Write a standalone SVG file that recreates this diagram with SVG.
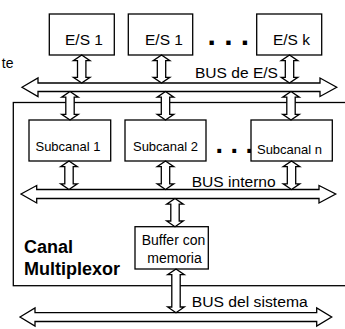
<svg xmlns="http://www.w3.org/2000/svg" width="345" height="329" viewBox="0 0 345 329">
<style>
.box{fill:#fff;stroke:#000;stroke-width:1.3}
.bus{fill:#fff;stroke:#000;stroke-width:1.3;stroke-linejoin:miter}
.va{fill:#fff;stroke:#000;stroke-width:1.3}
.t{font-family:"Liberation Sans",Arial,sans-serif;fill:#000}
.lbl{font-size:15.5px}
.dots{font-family:"Liberation Sans",Arial,sans-serif;font-weight:bold;fill:#000}
</style>
<rect width="345" height="329" fill="#fff"/>
<g id="canal-multiplexor">
<rect class="box" x="13.3" y="102.5" width="345" height="183.2"/>
<text class="t" x="24" y="253" font-size="18" font-weight="bold">Canal</text>
<text class="t" x="24" y="275" font-size="18" font-weight="bold">Multiplexor</text>
</g>
<text class="t" x="13.5" y="68" font-size="14" text-anchor="end">te</text>
<g id="es1a">
<rect class="box" x="49.3" y="14" width="65" height="41"/>
<text class="t" x="84" y="45" font-size="15.5" text-anchor="middle">E/S 1</text>
</g>
<g id="es1b">
<rect class="box" x="128.3" y="14" width="64.4" height="41"/>
<text class="t" x="164" y="45" font-size="15.5" text-anchor="middle">E/S 1</text>
</g>
<text class="dots" x="207.5" y="45" font-size="30">. . .</text>
<g id="esk">
<rect class="box" x="256.7" y="14" width="65" height="41"/>
<text class="t" x="291.5" y="45" font-size="15.5" text-anchor="middle">E/S k</text>
</g>
<g id="sub1">
<rect class="box" x="29" y="120" width="81.7" height="41"/>
<text class="t" x="68" y="151" font-size="13" text-anchor="middle">Subcanal 1</text>
</g>
<g id="sub2">
<rect class="box" x="125" y="120" width="81" height="41"/>
<text class="t" x="165.5" y="151" font-size="13" text-anchor="middle">Subcanal 2</text>
</g>
<text class="dots" x="215.5" y="153" font-size="27">. . .</text>
<g id="subn">
<rect class="box" x="251" y="120" width="81.3" height="41"/>
<text class="t" x="289.5" y="154" font-size="13" text-anchor="middle">Subcanal n</text>
</g>
<g id="buffer">
<rect class="box" x="135" y="226.7" width="73.3" height="42.3"/>
<text class="t" x="173.5" y="245" font-size="14" text-anchor="middle">Buffer con</text>
<text class="t" x="174.5" y="263.3" font-size="14" text-anchor="middle">memoria</text>
</g>
<g id="connectors">
<polygon class="bus" points="22,87.25 38,78 38,83 320,83 320,78 336.7,87.25 320,96.5 320,91.5 38,91.5 38,96.5"/>
<text class="t lbl" x="195" y="78" textLength="83" lengthAdjust="spacingAndGlyphs">BUS de E/S</text>
<polygon class="bus" points="21,194 36.7,185.5 36.7,189.5 319,189.5 319,185.5 335.7,194 319,203 319,198.5 36.7,198.5 36.7,203"/>
<text class="t lbl" x="191.7" y="186.5" textLength="84" lengthAdjust="spacingAndGlyphs">BUS interno</text>
<polygon class="bus" points="20,317 35,308 35,312.7 316.7,312.7 316.7,308 331.7,317 316.7,326 316.7,321.5 35,321.5 35,326"/>
<text class="t lbl" x="191.7" y="306.5" textLength="116" lengthAdjust="spacingAndGlyphs">BUS del sistema</text>
<g id="varrows">
<polygon class="va" points="81.7,55 90,60.7 85.9,60.7 85.9,77.3 90,77.3 81.7,83 73.4,77.3 77.5,77.3 77.5,60.7 73.4,60.7"/>
<polygon class="va" points="161.5,55 169.8,60.7 165.7,60.7 165.7,77.3 169.8,77.3 161.5,83 153.2,77.3 157.3,77.3 157.3,60.7 153.2,60.7"/>
<polygon class="va" points="289.5,55 297.8,60.7 293.7,60.7 293.7,77.3 297.8,77.3 289.5,83 281.2,77.3 285.3,77.3 285.3,60.7 281.2,60.7"/>
<polygon class="va" points="70,91.5 78.3,97.2 74.2,97.2 74.2,114.3 78.3,114.3 70,120 61.7,114.3 65.8,114.3 65.8,97.2 61.7,97.2"/>
<polygon class="va" points="165.5,91.5 173.8,97.2 169.7,97.2 169.7,114.3 173.8,114.3 165.5,120 157.2,114.3 161.3,114.3 161.3,97.2 157.2,97.2"/>
<polygon class="va" points="291,91.5 299.3,97.2 295.2,97.2 295.2,114.3 299.3,114.3 291,120 282.7,114.3 286.8,114.3 286.8,97.2 282.7,97.2"/>
<polygon class="va" points="69,161 77.3,166.7 73.2,166.7 73.2,183.8 77.3,183.8 69,189.5 60.7,183.8 64.8,183.8 64.8,166.7 60.7,166.7"/>
<polygon class="va" points="165.5,161 173.8,166.7 169.7,166.7 169.7,183.8 173.8,183.8 165.5,189.5 157.2,183.8 161.3,183.8 161.3,166.7 157.2,166.7"/>
<polygon class="va" points="291.5,161 299.8,166.7 295.7,166.7 295.7,183.8 299.8,183.8 291.5,189.5 283.2,183.8 287.3,183.8 287.3,166.7 283.2,166.7"/>
<polygon class="va" points="175,198.5 183.3,204.2 179.2,204.2 179.2,221 183.3,221 175,226.7 166.7,221 170.8,221 170.8,204.2 166.7,204.2"/>
<polygon class="va" points="176,269 184.3,274.7 180.2,274.7 180.2,307 184.3,307 176,312.7 167.7,307 171.8,307 171.8,274.7 167.7,274.7"/>
</g>
</g>
</svg>
